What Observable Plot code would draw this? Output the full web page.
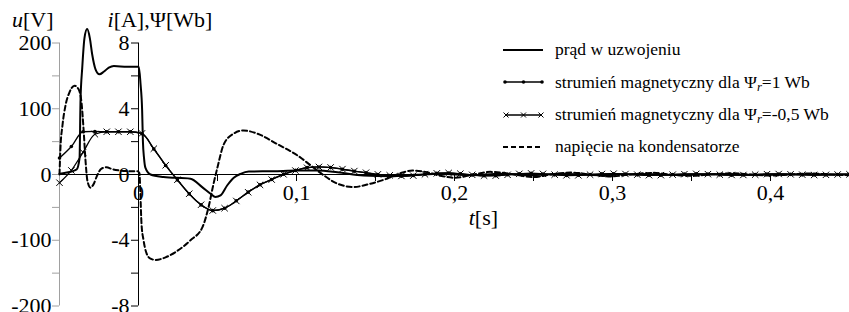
<!DOCTYPE html>
<html lang="pl">
<head>
<meta charset="utf-8">
<script src="https://cdn.jsdelivr.net/npm/d3@7"></script>
<script src="https://cdn.jsdelivr.net/npm/@observablehq/plot@0.6"></script>
<style>
html,body{margin:0;padding:0;background:#fff;}
#wrap{position:relative;width:849px;height:312px;overflow:hidden;font-family:"Liberation Serif","Times New Roman",serif;color:#000;}
#legend{position:absolute;left:503px;top:34px;font-size:17.5px;line-height:1;}
#legend .row{display:flex;align-items:center;height:32.3px;white-space:nowrap;}
#legend svg{width:40px;height:12px;margin-right:12px;flex:none;overflow:visible;}
.sub{font-style:italic;font-size:0.72em;position:relative;top:0.25em;}
</style>
</head>
<body>
<div id="wrap"><div id="legend"></div></div>
<script>
// ---- axes ----
const xDomain = [-0.05, 0.45];
const uDomain = [-200, 200];
const iDomain = [-8, 8];
const uTicks = [-200, -150, -100, -50, 0, 50, 100, 150, 200];
const uTickLabels = ["-200", "", "-100", "", "0", "", "100", "", "200"];
const iTicks = [-8, -6, -4, -2, 0, 2, 4, 6, 8];
const iTickLabels = ["-8", "", "-4", "", "0", "", "4", "", "8"];
const tTicks = [0, 0.05, 0.1, 0.15, 0.2, 0.25, 0.3, 0.35, 0.4];
const tTickLabels = ["0", "", "0,1", "", "0,2", "", "0,3", "", "0,4"];
const axisTitles = ["u[V]", "i[A],Ψ[Wb]", "t[s]"];

// ---- series: napięcie na kondensatorze (u, V) ----
const uT = [-0.05,-0.0494,-0.0481,-0.0462,-0.0437,-0.0405,-0.038,-0.0361,-0.0348,-0.0335,-0.0323,-0.0304,-0.0285,-0.0259,-0.0234,-0.0203,-0.0165,-0.0114,-0.0051,-0.0006,0.0006,0.0012,0.0019,0.0032,0.0051,0.0076,0.0108,0.0171,0.0234,0.0329,0.0405,0.0443,0.0475,0.05,0.0538,0.0601,0.0665,0.0753,0.088,0.1006,0.1089,0.1171,0.1259,0.1361,0.1468,0.1576,0.1658,0.1734,0.1816,0.1911,0.2006,0.2101,0.2228,0.2354,0.25,0.2608,0.2734,0.2861,0.2987,0.3114,0.3259,0.3367,0.3494,0.362,0.3766,0.3873,0.4,0.4127,0.4253,0.438,0.45];
const uV = [0,40,75,105,125,135,130,110,70,20,-10,-20,-15,0,9,11,8,6,5,5,2,-30,-75,-100,-120,-128,-130,-126,-118,-100,-80,-50,-14,11,45,62,67,62,46,29,14,-1,-14,-19,-14,-6,2,6,4,-2,-5,-1,4,1,-4,0,3,0,-3,0,2.5,0,-2,0,2,0,-1.5,0,1.5,0,-1];

// ---- series: prąd w uzwojeniu (i, A) ----
const iT = [-0.05,-0.0462,-0.0418,-0.0392,-0.0373,-0.0367,-0.0356,-0.0342,-0.0325,-0.0308,-0.0293,-0.0272,-0.0247,-0.022,-0.0188,-0.0156,-0.0072,0.0002,0.0013,0.0023,0.0028,0.0035,0.0044,0.0076,0.0158,0.0329,0.0403,0.0456,0.0487,0.0519,0.0561,0.0603,0.0646,0.0698,0.0854,0.1006,0.1133,0.1259,0.1424,0.1595,0.1753,0.1911,0.2101,0.2291,0.2481,0.2671,0.2924,0.3177,0.343,0.3684,0.3937,0.419,0.45];
const iV = [0.05,0.1,0.2,0.3,1.0,4.5,6.5,8.3,8.85,8.3,7.3,6.4,6.1,6.25,6.5,6.6,6.55,6.55,5.5,3.9,2,1,0.4,0,-0.15,-0.26,-0.77,-1.17,-1.37,-1.27,-0.67,-0.2,0.04,0.18,0.2,0.24,0.24,0.14,-0.06,-0.1,-0.02,0.05,-0.05,0.05,-0.05,0.04,-0.04,0.03,-0.03,0.03,-0.02,0.02,0];

// ---- series: strumień magnetyczny (Ψ, Wb), read at the marker instants ----
const psiT = [-0.05,-0.0425,-0.0351,-0.0276,-0.0201,-0.0127,-0.0052,0.0022,0.0097,0.0172,0.0246,0.0321,0.0396,0.047,0.0545,0.0619,0.0694,0.0769,0.0843,0.0918,0.0993,0.1067,0.1142,0.1216,0.1291,0.1366,0.144,0.1515,0.159,0.1664,0.1739,0.1813,0.1888,0.1963,0.2037,0.2112,0.2187,0.2261,0.2336,0.241,0.2485,0.256,0.2634,0.2709,0.2784,0.2858,0.2933,0.3007,0.3082,0.3157,0.3231,0.3306,0.3381,0.3455,0.353,0.3604,0.3679,0.3754,0.3828,0.3903,0.3978,0.4052,0.4127,0.4201,0.4276,0.4351,0.4425,0.45];
const psi1 = [1.0,1.7,2.6,2.62,2.6,2.6,2.6,2.48,1.55,0.55,-0.33,-1.18,-1.85,-2.2,-2.05,-1.6,-1.07,-0.62,-0.3,0.02,0.25,0.42,0.46,0.42,0.32,0.2,0.1,0.0,-0.06,-0.1,-0.06,0.02,0.08,0.09,0.04,-0.03,-0.08,-0.07,-0.01,0.05,0.07,0.03,-0.02,-0.06,-0.05,0,0.04,0.05,0.02,-0.02,-0.05,-0.04,0,0.03,0.04,0.02,-0.02,-0.04,-0.03,0,0.03,0.03,0.01,-0.02,-0.03,-0.02,0,0.02];
const psi2 = [-0.5,0.25,1.35,2.45,2.6,2.6,2.6,2.5,1.57,0.56,-0.32,-1.17,-1.84,-2.19,-2.05,-1.61,-1.08,-0.63,-0.31,0.01,0.24,0.41,0.46,0.43,0.33,0.21,0.11,0.01,-0.05,-0.09,-0.07,0.01,0.07,0.09,0.05,-0.02,-0.07,-0.07,-0.02,0.04,0.07,0.04,-0.01,-0.05,-0.05,-0.01,0.03,0.05,0.03,-0.01,-0.04,-0.04,-0.01,0.02,0.04,0.02,-0.01,-0.03,-0.03,-0.01,0.02,0.03,0.01,-0.01,-0.03,-0.02,0,0.01];

// ---- legend ----
const legendLabels = [
  "prąd w uzwojeniu",
  "strumień magnetyczny dla Ψ<span class=\"sub\">r</span>=1 Wb",
  "strumień magnetyczny dla Ψ<span class=\"sub\">r</span>=-0,5 Wb",
  "napięcie na kondensatorze"
];
const legendKinds = ["solid", "dot", "times", "dash"];

// ---- build ----
const FONT = '"Liberation Serif","Times New Roman",serif';
const ratio = uDomain[1] / iDomain[1];
const uData = uT.map((t, k) => ({t, v: uV[k] / ratio}));
const iData = iT.map((t, k) => ({t, v: iV[k]}));
const p1Data = psiT.map((t, k) => ({t, v: psi1[k]}));
const p2Data = psiT.map((t, k) => ({t, v: psi2[k]}));
const uLab = new Map(uTicks.map((u, k) => [u / ratio, uTickLabels[k]]));
const iLab = new Map(iTicks.map((v, k) => [v, iTickLabels[k]]));
const tLab = new Map(tTicks.map((v, k) => [v, tTickLabels[k]]));

const chart = Plot.plot({
  width: 849, height: 312,
  marginLeft: 59, marginRight: 0, marginTop: 42.5, marginBottom: 6.5,
  x: {domain: xDomain, axis: null},
  y: {domain: iDomain, axis: null},
  style: {fontFamily: FONT, fontSize: "22px", background: "white", color: "black", overflow: "visible"},
  marks: [
    // left axis u[V]
    Plot.ruleX([xDomain[0]], {y1: iDomain[0], y2: iDomain[1], stroke: "#a0a0a0"}),
    Plot.axisY(uTicks.map(u => u / ratio), {anchor: "left", label: null, tickSize: 7, tickPadding: 1, stroke: "#a0a0a0", fill: "black", fontFamily: FONT, fontSize: 22, tickFormat: d => uLab.get(d)}),
    // second axis i, Ψ at t = 0
    Plot.ruleX([0], {y1: iDomain[0], y2: iDomain[1], stroke: "black"}),
    Plot.axisY(iTicks, {x: 0, anchor: "left", label: null, tickSize: 7, tickPadding: 2, stroke: "black", fill: "black", fontFamily: FONT, fontSize: 22, tickFormat: d => iLab.get(d)}),
    // time axis on the zero line
    Plot.ruleY([0], {stroke: "black"}),
    Plot.axisX(tTicks, {y: 0, anchor: "bottom", label: null, tickSize: 7, tickPadding: 3, stroke: "black", fill: "black", fontFamily: FONT, fontSize: 22, tickFormat: d => tLab.get(d)}),
    // curves
    Plot.line(uData, {x: "t", y: "v", stroke: "black", strokeWidth: 2, strokeDasharray: "5,3", curve: "monotone-x"}),
    Plot.line(p1Data, {x: "t", y: "v", stroke: "black", strokeWidth: 1.3, curve: "monotone-x"}),
    Plot.dot(p1Data, {x: "t", y: "v", r: 1.8, fill: "black", stroke: "none"}),
    Plot.line(p2Data, {x: "t", y: "v", stroke: "black", strokeWidth: 1.3, curve: "monotone-x"}),
    Plot.dot(p2Data, {x: "t", y: "v", symbol: "times", r: 3, stroke: "black", strokeWidth: 1}),
    Plot.line(iData, {x: "t", y: "v", stroke: "black", strokeWidth: 2, curve: "monotone-x"}),
    // axis titles
    Plot.text([axisTitles[0]], {x: xDomain[0], y: iDomain[1], text: d => d, textAnchor: "end", lineAnchor: "bottom", dx: -6, dy: -16, fill: "black", fontFamily: FONT, fontSize: 22}),
    Plot.text([axisTitles[1]], {x: 0, y: iDomain[1], text: d => d, textAnchor: "start", lineAnchor: "bottom", dx: -31, dy: -16, fill: "black", fontFamily: FONT, fontSize: 22}),
    Plot.text([axisTitles[2]], {x: 0.209, y: 0, text: d => d, textAnchor: "start", lineAnchor: "bottom", dy: 50, fill: "black", fontFamily: FONT, fontSize: 22})
  ]
});
const wrap = document.getElementById("wrap");
wrap.insertBefore(chart, wrap.firstChild);

// italic physical symbols in axis titles
chart.querySelectorAll("text").forEach(el => {
  const s = el.textContent;
  if (axisTitles.includes(s)) {
    el.textContent = "";
    const ns = "http://www.w3.org/2000/svg";
    const a = document.createElementNS(ns, "tspan");
    a.setAttribute("font-style", "italic");
    a.textContent = s[0];
    const b = document.createElementNS(ns, "tspan");
    b.textContent = s.slice(1);
    el.appendChild(a); el.appendChild(b);
  }
});

// legend
const lg = document.getElementById("legend");
legendLabels.forEach((lab, k) => {
  const kind = legendKinds[k];
  let sw = "";
  if (kind === "solid") sw = '<line x1="0" x2="40" y1="6" y2="6" stroke="black" stroke-width="2"/>';
  if (kind === "dash") sw = '<line x1="0" x2="40" y1="6" y2="6" stroke="black" stroke-width="2" stroke-dasharray="5,3"/>';
  if (kind === "dot") sw = '<line x1="2" x2="39" y1="6" y2="6" stroke="black" stroke-width="1.3"/>' +
    [2, 20.5, 39].map(x => `<circle cx="${x}" cy="6" r="1.8" fill="black"/>`).join("");
  if (kind === "times") sw = '<line x1="2" x2="39" y1="6" y2="6" stroke="black" stroke-width="1.3"/>' +
    [3, 20.5, 38].map(x => `<path d="M${x-2.5},3.5L${x+2.5},8.5M${x-2.5},8.5L${x+2.5},3.5" stroke="black" stroke-width="1"/>`).join("");
  const row = document.createElement("div");
  row.className = "row";
  row.innerHTML = `<svg viewBox="0 0 40 12">${sw}</svg><span>${lab}</span>`;
  lg.appendChild(row);
});
</script>
</body>
</html>
